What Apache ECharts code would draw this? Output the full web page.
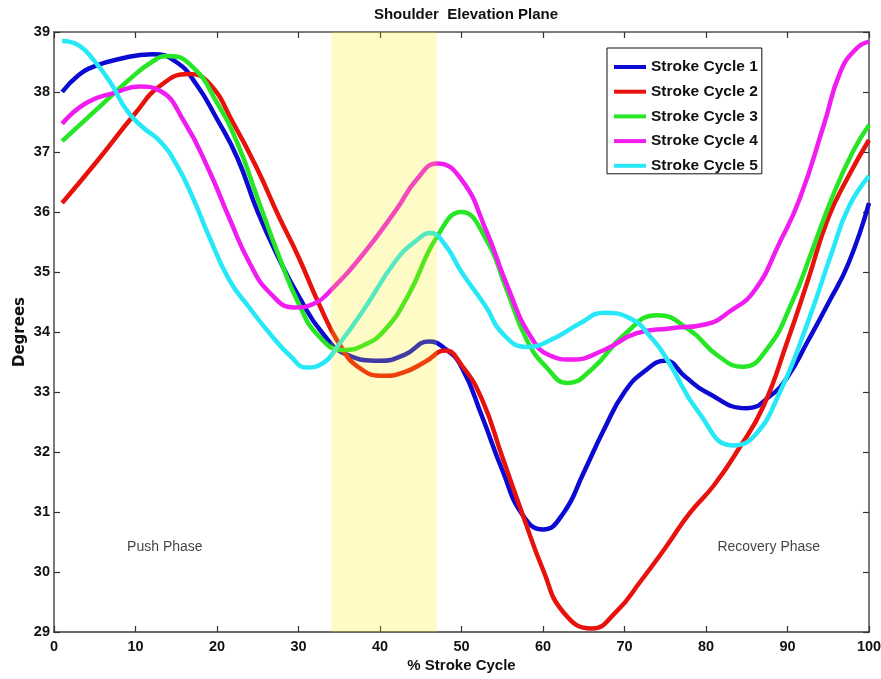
<!DOCTYPE html>
<html>
<head>
<meta charset="utf-8">
<title>Shoulder Elevation Plane</title>
<script src="https://cdn.jsdelivr.net/npm/echarts@6/dist/echarts.min.js"></script>
<style>
  html, body { margin: 0; padding: 0; background: #fff; }
  #chart { width: 881px; height: 679px; }
</style>
</head>
<body>
<div id="chart"></div>
<script>
// Each stroke cycle: % of stroke cycle and shoulder elevation plane angle (degrees)
const cycle1Pct = [1, 3, 5, 8, 12, 15, 17.5, 20, 22.5, 25, 27.5, 30, 33, 36, 40, 43, 46, 48, 50, 52.5, 55, 57.5,
  60, 62.5, 65, 67.5, 70, 72.5, 75, 77.5, 80, 85, 88, 90, 92.5, 95, 97.5, 100];
const cycle1Deg = [38.00, 38.28, 38.43, 38.55, 38.63, 38.50, 38.12, 37.55, 36.90, 36.00, 35.25, 34.60, 33.97, 33.62,
  33.52, 33.62, 33.84, 33.72, 33.42, 32.60, 31.70, 30.95, 30.71, 30.98, 31.66, 32.38, 33.00, 33.35, 33.52, 33.25,
  33.00, 32.73, 32.95, 33.25, 33.85, 34.48, 35.15, 36.15];

const cycle2Pct = [1, 5, 10, 13, 16.5, 19, 22, 25, 27.5, 30, 32.5, 35, 37.5, 40.5, 43, 45.5, 48, 50, 52.5, 55, 57.5,
  60, 62.5, 66, 69, 72, 75, 78, 81, 84, 87, 90, 92.5, 95, 97.5, 100];
const cycle2Deg = [36.15, 36.80, 37.65, 38.10, 38.30, 38.15, 37.48, 36.70, 35.95, 35.25, 34.47, 33.80, 33.40, 33.27,
  33.33, 33.50, 33.69, 33.45, 32.88, 31.92, 30.96, 30.04, 29.33, 29.06, 29.34, 29.85, 30.40, 30.98, 31.45, 32.05,
  32.75, 33.85, 34.86, 35.90, 36.60, 37.20];

const cycle3Pct = [1, 5, 9, 12, 14, 17, 20, 22.5, 25, 27.5, 30, 32.5, 35.5, 38, 40.5, 43.5, 47, 50, 53, 55.5, 58,
  60.5, 63, 66, 70, 74, 78, 81.5, 84.5, 87.5, 90.5, 93, 95.5, 98, 100];
const cycle3Deg = [37.18, 37.68, 38.18, 38.50, 38.60, 38.42, 37.82, 37.15, 36.22, 35.30, 34.48, 33.93, 33.70, 33.78,
  34.02, 34.62, 35.59, 36.00, 35.55, 34.72, 33.87, 33.40, 33.15, 33.38, 33.96, 34.28, 34.03, 33.60, 33.42, 33.72,
  34.48, 35.35, 36.25, 37.00, 37.45];

const cycle4Pct = [1, 4, 7.5, 10.5, 13, 16, 19, 21.5, 24, 26.5, 29.5, 32, 34, 38, 42, 44.5, 47, 50, 53, 55.5, 58.5,
  61, 63.5, 67.5, 71.5, 75.5, 80, 83, 86, 89, 91.5, 94.5, 96.5, 98.5, 100];
const cycle4Deg = [37.47, 37.82, 37.99, 38.09, 38.02, 37.50, 36.70, 35.90, 35.15, 34.65, 34.41, 34.48, 34.70, 35.31,
  36.04, 36.54, 36.81, 36.54, 35.70, 34.81, 33.92, 33.60, 33.54, 33.70, 33.98, 34.06, 34.13, 34.35, 34.70, 35.48,
  36.22, 37.47, 38.34, 38.73, 38.84];

const cycle5Pct = [1, 3, 5, 7, 9, 11, 13, 15, 17, 19, 21.5, 24, 26.5, 29, 31, 33, 35, 38, 42, 44.5, 46.2, 48, 50,
  53, 55, 58, 61, 64.5, 67.5, 70.5, 73.5, 75.5, 79, 83.3, 86, 89, 92.3, 95.5, 97.5, 100];
const cycle5Deg = [38.85, 38.78, 38.51, 38.14, 37.68, 37.40, 37.18, 36.80, 36.25, 35.60, 34.87, 34.40, 33.97, 33.60,
  33.41, 33.48, 33.80, 34.37, 35.20, 35.53, 35.65, 35.45, 35.00, 34.42, 33.98, 33.75, 33.87, 34.14, 34.32, 34.24,
  33.87, 33.48, 32.68, 32.11, 32.28, 32.98, 34.09, 35.35, 36.08, 36.60];

const seriesNames = ['Stroke Cycle 1', 'Stroke Cycle 2', 'Stroke Cycle 3', 'Stroke Cycle 4', 'Stroke Cycle 5'];
const seriesPct = [cycle1Pct, cycle2Pct, cycle3Pct, cycle4Pct, cycle5Pct];
const seriesDeg = [cycle1Deg, cycle2Deg, cycle3Deg, cycle4Deg, cycle5Deg];
const seriesColors = ['#0a0ad2', '#e8120c', '#26e626', '#f01cf0', '#26e8f6'];

// Transition window between the two phases (% stroke cycle)
const transitionWindow = [34, 47];

// Phase annotations: [x, y, text]
const phaseLabels = [[13.6, 30.41, 'Push Phase'], [87.7, 30.41, 'Recovery Phase']];

const xTicks = { min: 0, max: 100, interval: 10 };
const yTicks = { min: 29, max: 39, interval: 1 };

const SANS = "'Liberation Sans', Arial, Helvetica, sans-serif";

const chart = echarts.init(document.getElementById('chart'), null, { renderer: 'canvas' });

const lineSeries = seriesNames.map((name, i) => ({
  name: name,
  type: 'line',
  data: seriesPct[i].map((x, j) => [x, seriesDeg[i][j]]),
  smooth: 0.5,
  symbol: 'none',
  lineStyle: { color: seriesColors[i], width: 4.5 },
  itemStyle: { color: seriesColors[i] },
  z: 2,
  silent: true
}));

const frameAxis = {
  axisLine: { show: true, onZero: false, lineStyle: { color: '#7a7a7a', width: 2 } },
  axisTick: { show: true, inside: true, length: 6, lineStyle: { color: '#333', width: 1.2 } },
  splitLine: { show: false }
};

const option = {
  animation: false,
  backgroundColor: '#ffffff',
  title: {
    text: 'Shoulder  Elevation Plane',
    left: 461,
    top: 2,
    textAlign: 'center',
    textStyle: { fontFamily: SANS, fontWeight: 'bold', fontSize: 15, color: '#111' }
  },
  grid: { left: 54, right: 12, top: 32, bottom: 47, containLabel: false, outerBoundsMode: 'none' },
  legend: {
    data: seriesNames,
    orient: 'vertical',
    left: 607,
    top: 48,
    padding: [11, 4, 0, 7],
    itemGap: 8.7,
    itemWidth: 32,
    itemHeight: 4,
    icon: 'rect',
    backgroundColor: '#ffffff',
    borderColor: '#111',
    borderWidth: 1,
    borderRadius: 0,
    selectedMode: false,
    textStyle: { fontFamily: SANS, fontWeight: 'bold', fontSize: 15.5, lineHeight: 16, color: '#111' }
  },
  xAxis: [
    Object.assign({
      type: 'value', position: 'bottom',
      min: xTicks.min, max: xTicks.max, interval: xTicks.interval,
      name: '% Stroke Cycle', nameLocation: 'middle', nameGap: 26.5, nameMoveOverlap: false,
      nameTextStyle: { fontFamily: SANS, fontWeight: 'bold', fontSize: 15, color: '#111' },
      axisLabel: { margin: 7, fontFamily: SANS, fontWeight: 'bold', fontSize: 14.5, color: '#111' }
    }, frameAxis, { axisLine: { show: true, onZero: false, lineStyle: { color: '#3a3a3a', width: 1.6 } } }),
    Object.assign({
      type: 'value', position: 'top',
      min: xTicks.min, max: xTicks.max, interval: xTicks.interval,
      axisLabel: { show: false }
    }, frameAxis)
  ],
  yAxis: [
    Object.assign({
      type: 'value', position: 'left',
      min: yTicks.min, max: yTicks.max, interval: yTicks.interval,
      name: 'Degrees', nameLocation: 'middle', nameGap: 26, nameRotate: 90, nameMoveOverlap: false,
      nameTextStyle: { fontFamily: "'DejaVu Sans', sans-serif", fontWeight: 'bold', fontSize: 15, color: '#111' },
      axisLabel: { margin: 4, fontFamily: SANS, fontWeight: 'bold', fontSize: 14.5, color: '#111' }
    }, frameAxis),
    Object.assign({
      type: 'value', position: 'right',
      min: yTicks.min, max: yTicks.max, interval: yTicks.interval,
      axisLabel: { show: false }
    }, frameAxis)
  ],
  series: lineSeries.concat([
    {
      name: 'transition',
      type: 'line',
      data: [],
      silent: true,
      z: 5,
      markArea: {
        silent: true,
        z: 5,
        itemStyle: { color: 'rgba(255, 236, 0, 0.22)', borderWidth: 0 },
        data: [[{ xAxis: transitionWindow[0] }, { xAxis: transitionWindow[1] }]]
      }
    },
    {
      name: 'phases',
      type: 'scatter',
      data: phaseLabels,
      symbolSize: 0,
      silent: true,
      z: 6,
      label: {
        show: true,
        position: 'inside',
        formatter: p => p.data[2],
        fontFamily: SANS,
        fontSize: 14,
        color: '#111'
      }
    }
  ])
};

chart.setOption(option);
</script>
</body>
</html>
